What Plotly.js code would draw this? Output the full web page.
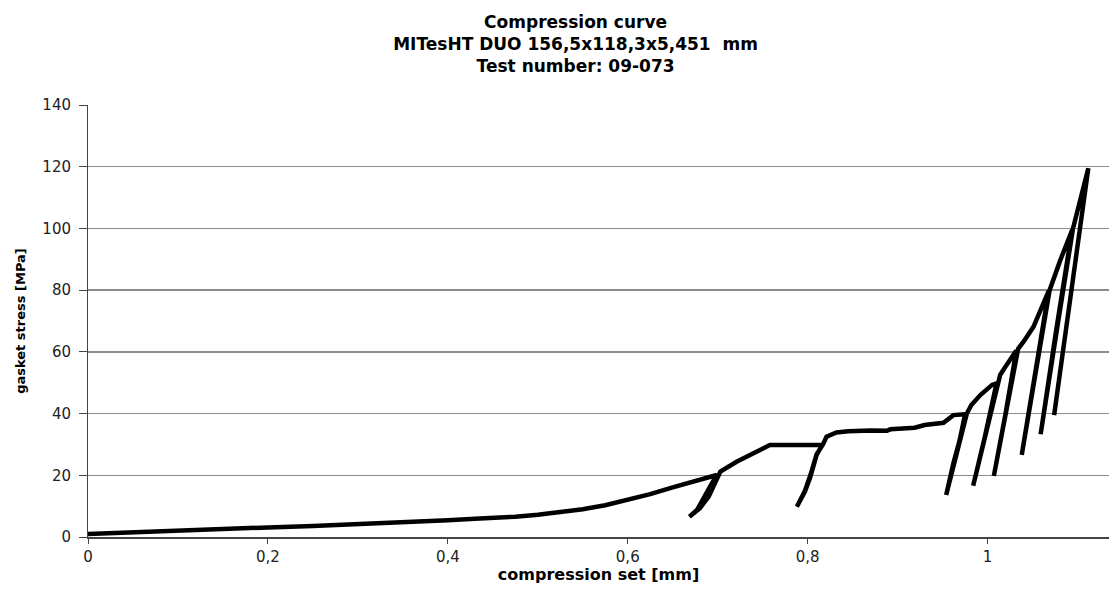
<!DOCTYPE html>
<html>
<head>
<meta charset="utf-8">
<script src="https://cdn.plot.ly/plotly-3.0.1.min.js"></script>
<style>html,body{margin:0;padding:0;background:#fff}#chart{width:1109px;height:590px}</style>
</head>
<body>
<div id="chart"></div>
<script>
// compression set [mm] along the measured path (loading, unloading and reloading loops)
var compressionSet = [
  0, 0.05, 0.1, 0.15, 0.2, 0.25, 0.3, 0.35, 0.4, 0.43, 0.45, 0.475, 0.5, 0.525, 0.55, 0.575, 0.6, 0.625, 0.65, 0.675, 0.699,
  0.6915, 0.684, 0.677, 0.6685, 0.671, 0.680, 0.690, 0.697, 0.701,
  0.703, 0.721, 0.758, 0.816,
  0.810, 0.803, 0.797, 0.788, 0.797, 0.803, 0.810, 0.817,
  0.821, 0.832, 0.845, 0.87, 0.888, 0.892, 0.903, 0.919, 0.930, 0.951, 0.962, 0.968, 0.975,
  0.969, 0.962, 0.954, 0.963, 0.970, 0.977,
  0.982, 0.992, 1.005, 1.010,
  0.997, 0.984, 0.998, 1.011,
  1.014, 1.021, 1.032,
  1.020, 1.007, 1.021, 1.034,
  1.040, 1.051, 1.068,
  1.053, 1.038, 1.054, 1.069,
  1.081, 1.094,
  1.076, 1.059, 1.077, 1.095,
  1.103, 1.112,
  1.093, 1.074
];
// gasket stress [MPa]
var gasketStress = [
  1, 1.6, 2.1, 2.6, 3.1, 3.6, 4.1, 4.7, 5.4, 5.9, 6.1, 6.6, 7.2, 8.0, 9.0, 10.3, 12.0, 13.9, 16.1, 18.2, 20.1,
  16.3, 12.0, 8.75, 6.6, 7.1, 9.3, 13.1, 17.4, 20.5,
  21.2, 24.4, 29.8, 29.8,
  26.6, 19.5, 14.7, 9.8, 15.0, 20.0, 26.8, 30,
  32.5, 33.9, 34.3, 34.5, 34.4, 34.9, 35.0, 35.4, 36.3, 37.0, 39.5, 39.8, 39.8,
  31.4, 23.9, 13.6, 24.5, 32.0, 40.0,
  42.8, 46.0, 49.3, 49.8,
  32.5, 16.6, 33.0, 50.0,
  52.5, 55.7, 60.4,
  40.0, 19.8, 40.5, 61.0,
  63.3, 68.1, 79.8,
  53.0, 26.6, 53.5, 80.0,
  89.8, 99.5,
  66.5, 33.3, 67.0, 100.0,
  109.5, 119.5,
  79.5, 39.5
];
var xTickVals = [0, 0.2, 0.4, 0.6, 0.8, 1];
var yTickVals = [0, 20, 40, 60, 80, 100, 120, 140];

var FONT = 'DejaVu Sans, Liberation Sans, Arial, sans-serif';

var trace = {
  x: compressionSet,
  y: gasketStress,
  type: 'scatter',
  mode: 'lines',
  line: {color: '#000000', width: 4.5},
  hoverinfo: 'x+y'
};

var layout = {
  width: 1109,
  height: 590,
  margin: {l: 88, r: 0, t: 105, b: 53},
  paper_bgcolor: '#ffffff',
  plot_bgcolor: '#ffffff',
  separators: ', ',
  showlegend: false,
  font: {family: FONT, color: '#222'},
  title: {
    text: '<b>Compression curve<br>MITesHT DUO 156,5x118,3x5,451  mm<br>Test number: 09-073</b>',
    font: {family: FONT, size: 17, color: '#000'},
    x: 0.519, xanchor: 'center', y: 0.953, yanchor: 'top'
  },
  xaxis: {
    range: [0, 1.135],
    tickvals: xTickVals,
    ticks: 'outside', ticklen: 5, tickcolor: '#444', tickwidth: 1,
    showgrid: false, zeroline: false,
    showline: true, linecolor: '#444', linewidth: 1.5,
    tickfont: {family: FONT, size: 15, color: '#222'},
    title: {text: '<b>compression set [mm]</b>', font: {family: FONT, size: 16, color: '#000'}, standoff: 3}
  },
  yaxis: {
    range: [0, 140],
    tickvals: yTickVals,
    ticks: 'outside', ticklen: 8, tickcolor: '#444', tickwidth: 1,
    ticklabelstandoff: 5,
    showgrid: true, gridcolor: '#8c8c8c', gridwidth: 1.5,
    zeroline: false,
    showline: true, linecolor: '#444', linewidth: 1,
    tickfont: {family: FONT, size: 15, color: '#222'},
    title: {text: '<b>gasket stress [MPa]</b>', font: {family: FONT, size: 13, color: '#000'}, standoff: 13}
  }
};

Plotly.newPlot('chart', [trace], layout, {displayModeBar: false, staticPlot: true});
</script>
</body>
</html>
